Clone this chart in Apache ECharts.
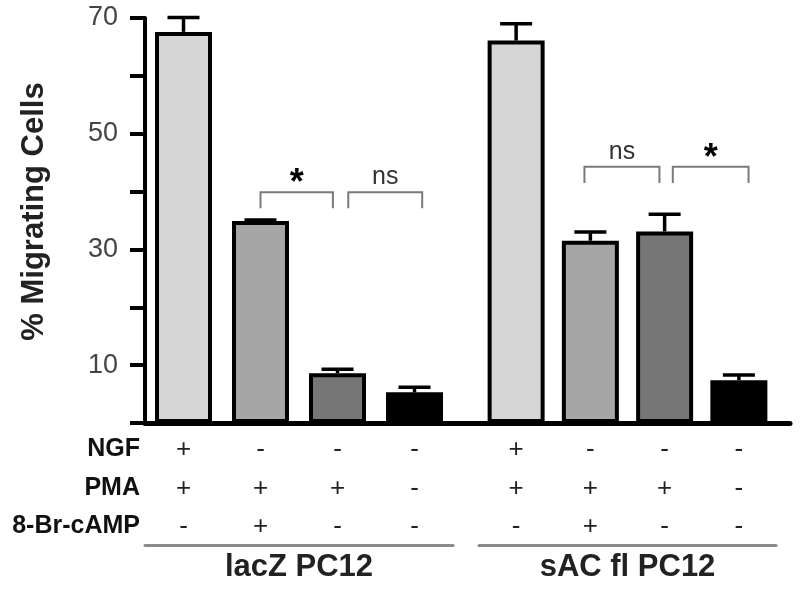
<!DOCTYPE html>
<html>
<head>
<meta charset="utf-8">
<script src="https://cdn.jsdelivr.net/npm/echarts@6/dist/echarts.min.js"></script>
<style>
  html, body { margin: 0; padding: 0; background: #fff; }
  #chart { width: 800px; height: 590px; }
</style>
</head>
<body>
<div id="chart"></div>
<script>
// group names and treatment rows
const groups = ['lacZ PC12', 'sAC fl PC12'];
const conditions = ['NGF', 'PMA', '8-Br-cAMP'];
const ngf = ['+', '-', '-', '-'];
const pma = ['+', '+', '+', '-'];
const camp = ['-', '+', '-', '-'];

// % migrating cells (mean) and error (SEM)
const lacZValues = [67.6, 34.9, 8.6, 5.3];
const lacZErrors = [2.5, 0.2, 0.7, 0.9];
const sacValues = [66.1, 31.5, 33.1, 7.4];
const sacErrors = [2.9, 1.5, 3.0, 0.9];

const yTickLabels = [10, 30, 50, 70];

// significance brackets: [from bar, to bar, height]
const lacZBrackets = [[1.0, 1.94, 39.9], [2.14, 3.1, 39.9]];
const lacZMarks = ['*', 'ns'];
const sacBrackets = [[0.92, 1.93, 44.3], [2.11, 3.13, 44.3]];
const sacMarks = ['ns', '*'];

const barColors = ['#d6d6d6', '#a6a6a6', '#767676', '#000000'];
const FONT = 'Liberation Sans, Arial, Helvetica, sans-serif';

const cats = ngf.map((v, i) => [ngf[i], pma[i], camp[i]].join('\n'));

const chart = echarts.init(document.getElementById('chart'));

function barSeries(idx, values) {
    return {
        type: 'bar',
        xAxisIndex: idx * 2,
        yAxisIndex: idx,
        barWidth: 57,
        data: values.map((v, i) => ({
            value: v,
            itemStyle: { color: barColors[i] }
        })),
        itemStyle: { borderColor: '#000', borderWidth: 4 },
        silent: true
    };
}

function errorSeries(idx, values, errors) {
    return {
        type: 'custom',
        xAxisIndex: idx * 2,
        yAxisIndex: idx,
        silent: true,
        z: 3,
        data: values.map((v, i) => [i, v, errors[i]]),
        renderItem: function (params, api) {
            const i = api.value(0);
            const v = api.value(1);
            const e = api.value(2);
            const base = api.coord([i, v]);
            const top = api.coord([i, v + e]);
            const half = 16;
            const st = { stroke: '#000', lineWidth: 3.5 };
            return {
                type: 'group',
                children: [
                    { type: 'line', shape: { x1: base[0], y1: base[1], x2: top[0], y2: top[1] }, style: st },
                    { type: 'line', shape: { x1: top[0] - half, y1: top[1], x2: top[0] + half, y2: top[1] }, style: st }
                ]
            };
        }
    };
}

function bracketSeries(idx, brackets, marks) {
    return {
        type: 'custom',
        xAxisIndex: idx * 2,
        yAxisIndex: idx,
        silent: true,
        z: 3,
        data: brackets.map(b => [b[0], b[2]]),
        renderItem: function (params, api) {
            const b = brackets[params.dataIndex];
            const mark = marks[params.dataIndex];
            const w = api.size([1, 0])[0];
            const xAt = f => {
                const k = Math.floor(f);
                return api.coord([k, 0])[0] + (f - k) * w;
            };
            const x1 = xAt(b[0]);
            const x2 = xAt(b[1]);
            const yt = api.coord([0, b[2]])[1];
            const yl = api.coord([0, b[2] - 2.8])[1];
            const isStar = mark === '*';
            return {
                type: 'group',
                children: [
                    {
                        type: 'polyline',
                        shape: { points: [[x1, yl], [x1, yt], [x2, yt], [x2, yl]] },
                        style: { stroke: '#7a7a7a', lineWidth: 2, fill: null }
                    },
                    {
                        type: 'text',
                        x: (x1 + x2) / 2,
                        y: isStar ? yt - 8 : yt - 15,
                        style: {
                            text: mark,
                            font: (isStar ? 'bold 36px ' : '25px ') + FONT,
                            fill: isStar ? '#000' : '#333',
                            align: 'center',
                            verticalAlign: 'middle'
                        }
                    }
                ]
            };
        }
    };
}

function groupAxis(idx) {
    return {
        type: 'category',
        gridIndex: idx,
        position: 'bottom',
        offset: 122,
        data: cats,
        axisLine: { lineStyle: { color: '#8a8a8a', width: 3 } },
        axisTick: { show: false },
        axisLabel: { show: false },
        name: groups[idx],
        nameLocation: 'middle',
        nameGap: 7,
        nameTextStyle: { fontFamily: FONT, fontSize: 31, fontWeight: 'bold', color: '#222' }
    };
}

function signAxis(idx) {
    return {
        type: 'category',
        gridIndex: idx,
        data: cats,
        axisLine: { show: false },
        axisTick: { show: false },
        axisLabel: {
            interval: 0,
            margin: 8,
            fontFamily: FONT,
            fontSize: 26,
            lineHeight: 38.5,
            color: '#222'
        }
    };
}

const option = {
    animation: false,
    backgroundColor: '#fff',
    grid: [
        { left: 145, top: 18, width: 308, bottom: 167, outerBoundsMode: 'none', containLabel: false },
        { left: 479, top: 18, width: 297, bottom: 167, outerBoundsMode: 'none', containLabel: false },
        { left: 145, top: 18, right: 10, bottom: 167, outerBoundsMode: 'none', containLabel: false }
    ],
    xAxis: [
        signAxis(0),
        groupAxis(0),
        signAxis(1),
        groupAxis(1),
        {
            type: 'category',
            gridIndex: 2,
            data: [''],
            axisLine: { lineStyle: { color: '#000', width: 5 } },
            axisTick: { show: false },
            axisLabel: { show: false }
        }
    ],
    yAxis: [
        {
            type: 'value',
            gridIndex: 0,
            min: 0,
            max: 70,
            interval: 10,
            splitLine: { show: false },
            axisLine: { show: true, lineStyle: { color: '#000', width: 4 } },
            axisTick: { show: true, length: 15, lineStyle: { color: '#000', width: 4 } },
            axisLabel: {
                margin: 27,
                fontFamily: FONT,
                fontSize: 27,
                color: '#444',
                formatter: v => yTickLabels.includes(v) ? String(v) : ''
            },
            name: '% Migrating Cells',
            nameLocation: 'middle',
            nameRotate: 90,
            nameGap: 95,
            nameTextStyle: { fontFamily: FONT, fontSize: 31, fontWeight: 'bold', color: '#222', padding: [0, 0, 0, 18] }
        },
        { type: 'value', gridIndex: 1, min: 0, max: 70, show: false },
        { type: 'value', gridIndex: 2, min: 0, max: 70, show: false }
    ],
    graphic: conditions.map((c, i) => ({
        type: 'text',
        right: 800 - 140,
        top: 450 + i * 38.5 - 13,
        style: {
            text: c,
            font: 'bold 25px ' + FONT,
            fill: '#111',
            align: 'right'
        }
    })),
    series: [
        barSeries(0, lacZValues),
        errorSeries(0, lacZValues, lacZErrors),
        bracketSeries(0, lacZBrackets, lacZMarks),
        barSeries(1, sacValues),
        errorSeries(1, sacValues, sacErrors),
        bracketSeries(1, sacBrackets, sacMarks)
    ]
};

chart.setOption(option);
</script>
</body>
</html>
